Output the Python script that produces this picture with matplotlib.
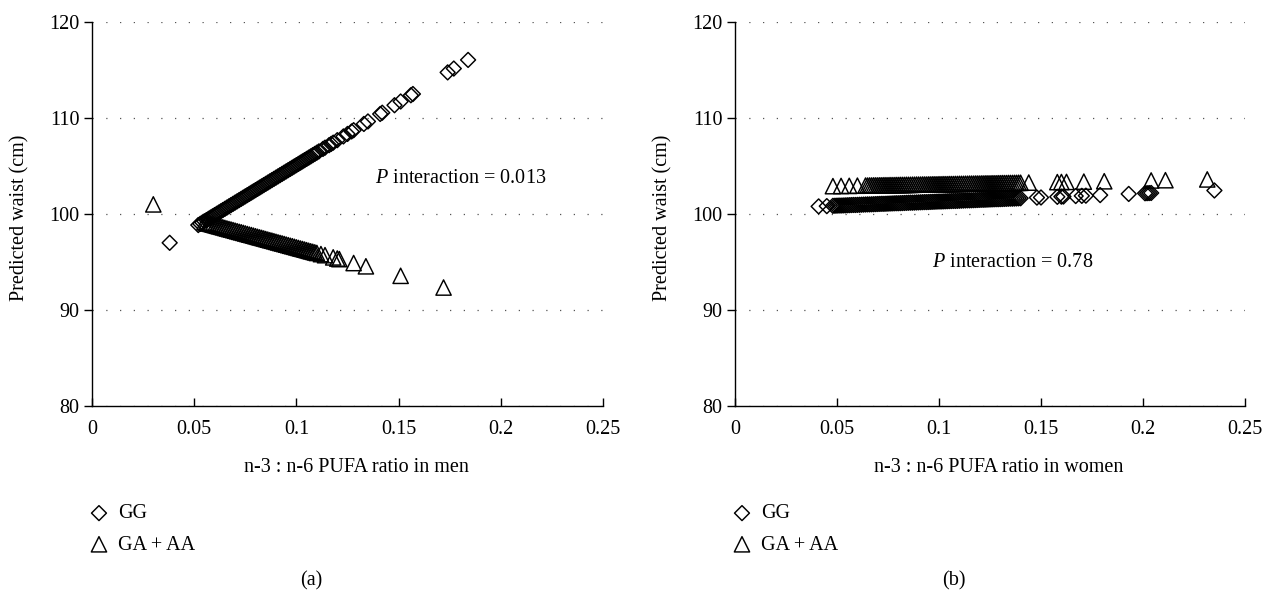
import matplotlib
matplotlib.use("Agg")
import matplotlib.pyplot as plt

plt.rcParams["font.family"] = ["Liberation Serif", "DejaVu Serif"]
plt.rcParams["mathtext.fontset"] = "custom"
plt.rcParams["mathtext.rm"] = "Liberation Serif"
plt.rcParams["mathtext.it"] = "Liberation Serif:italic"

# ---- data ----
x_ticks = [0, 0.05, 0.1, 0.15, 0.2, 0.25]
x_tick_labels = ["0", "0.05", "0.1", "0.15", "0.2", "0.25"]
y_ticks = [80, 90, 100, 110, 120]

# (a) men, GG
men_gg_x = [0.038, 0.052, 0.053, 0.054, 0.055, 0.056, 0.057, 0.058, 0.059, 0.060,
            0.061, 0.062, 0.063, 0.064, 0.065, 0.066, 0.067, 0.068, 0.069, 0.070,
            0.071, 0.072, 0.073, 0.074, 0.075, 0.076, 0.077, 0.078, 0.079, 0.080,
            0.081, 0.082, 0.083, 0.084, 0.085, 0.086, 0.087, 0.088, 0.089, 0.090,
            0.091, 0.092, 0.093, 0.094, 0.095, 0.096, 0.097, 0.098, 0.099, 0.100,
            0.101, 0.102, 0.103, 0.104, 0.105, 0.106, 0.107, 0.108, 0.109, 0.110,
            0.111, 0.113, 0.114, 0.116, 0.117, 0.118, 0.120, 0.123, 0.125, 0.127,
            0.128, 0.133, 0.135, 0.141, 0.142, 0.148, 0.151, 0.156, 0.157, 0.174,
            0.177, 0.184]
men_gg_y = [97.0, 98.85, 98.98, 99.11, 99.24, 99.37, 99.50, 99.63, 99.76, 99.89,
            100.02, 100.15, 100.28, 100.41, 100.54, 100.67, 100.80, 100.93, 101.06, 101.19,
            101.32, 101.45, 101.58, 101.71, 101.84, 101.97, 102.10, 102.23, 102.36, 102.49,
            102.62, 102.75, 102.88, 103.01, 103.14, 103.27, 103.40, 103.53, 103.66, 103.79,
            103.92, 104.05, 104.18, 104.31, 104.44, 104.57, 104.70, 104.83, 104.96, 105.09,
            105.22, 105.35, 105.48, 105.61, 105.74, 105.87, 106.00, 106.13, 106.26, 106.39,
            106.52, 106.78, 106.91, 107.17, 107.30, 107.43, 107.69, 108.08, 108.34, 108.60,
            108.73, 109.38, 109.64, 110.42, 110.55, 111.33, 111.72, 112.37, 112.50, 114.75,
            115.15, 116.05]

# (a) men, GA + AA
men_ga_x = [0.030, 0.055, 0.056, 0.057, 0.058, 0.059, 0.060, 0.061, 0.062, 0.063,
            0.064, 0.065, 0.066, 0.067, 0.068, 0.069, 0.070, 0.071, 0.072, 0.073,
            0.074, 0.075, 0.076, 0.077, 0.078, 0.079, 0.080, 0.081, 0.082, 0.083,
            0.084, 0.085, 0.086, 0.087, 0.088, 0.089, 0.090, 0.091, 0.092, 0.093,
            0.094, 0.095, 0.096, 0.097, 0.098, 0.099, 0.100, 0.101, 0.102, 0.103,
            0.104, 0.105, 0.106, 0.107, 0.108, 0.109, 0.110, 0.112, 0.114, 0.118,
            0.120, 0.121, 0.128, 0.134, 0.151, 0.172]
men_ga_y = [101.0, 99.13, 99.07, 99.01, 98.96, 98.90, 98.84, 98.78, 98.72, 98.67,
            98.61, 98.55, 98.49, 98.43, 98.38, 98.32, 98.26, 98.20, 98.14, 98.09,
            98.03, 97.97, 97.91, 97.85, 97.80, 97.74, 97.68, 97.62, 97.56, 97.51,
            97.45, 97.39, 97.33, 97.27, 97.22, 97.16, 97.10, 97.04, 96.98, 96.93,
            96.87, 96.81, 96.75, 96.69, 96.64, 96.58, 96.52, 96.46, 96.40, 96.35,
            96.29, 96.23, 96.17, 96.11, 96.06, 96.00, 95.94, 95.82, 95.71, 95.48,
            95.36, 95.30, 94.89, 94.55, 93.56, 92.34]

# (b) women, GG
women_gg_x = [0.041, 0.045,
              0.048, 0.049, 0.050, 0.051, 0.052, 0.053, 0.054, 0.055, 0.056, 0.057,
              0.058, 0.059, 0.060, 0.061, 0.062, 0.063, 0.064, 0.065, 0.066, 0.067,
              0.068, 0.069, 0.070, 0.071, 0.072, 0.073, 0.074, 0.075, 0.076, 0.077,
              0.078, 0.079, 0.080, 0.081, 0.082, 0.083, 0.084, 0.085, 0.086, 0.087,
              0.088, 0.089, 0.090, 0.091, 0.092, 0.093, 0.094, 0.095, 0.096, 0.097,
              0.098, 0.099, 0.100, 0.101, 0.102, 0.103, 0.104, 0.105, 0.106, 0.107,
              0.108, 0.109, 0.110, 0.111, 0.112, 0.113, 0.114, 0.115, 0.116, 0.117,
              0.118, 0.119, 0.120, 0.121, 0.122, 0.123, 0.124, 0.125, 0.126, 0.127,
              0.128, 0.129, 0.130, 0.131, 0.132, 0.133, 0.134, 0.135, 0.136, 0.137,
              0.138, 0.139, 0.140,
              0.148, 0.150, 0.158, 0.160, 0.161, 0.167, 0.170, 0.172, 0.179, 0.193,
              0.201, 0.202, 0.203, 0.204, 0.235]
women_gg_y = [100.79, 100.82,
              100.85, 100.86, 100.87, 100.88, 100.88, 100.89, 100.90, 100.91, 100.92, 100.93,
              100.94, 100.94, 100.95, 100.96, 100.97, 100.98, 100.99, 101.00, 101.00, 101.01,
              101.02, 101.03, 101.04, 101.05, 101.06, 101.06, 101.07, 101.08, 101.09, 101.10,
              101.11, 101.12, 101.12, 101.13, 101.14, 101.15, 101.16, 101.17, 101.18, 101.18,
              101.19, 101.20, 101.21, 101.22, 101.23, 101.24, 101.24, 101.25, 101.26, 101.27,
              101.28, 101.29, 101.30, 101.30, 101.31, 101.32, 101.33, 101.34, 101.35, 101.36,
              101.36, 101.37, 101.38, 101.39, 101.40, 101.41, 101.42, 101.42, 101.43, 101.44,
              101.45, 101.46, 101.47, 101.48, 101.48, 101.49, 101.50, 101.51, 101.52, 101.53,
              101.54, 101.54, 101.55, 101.56, 101.57, 101.58, 101.59, 101.60, 101.60, 101.61,
              101.62, 101.63, 101.64,
              101.71, 101.72, 101.79, 101.81, 101.82, 101.87, 101.89, 101.91, 101.97, 102.09,
              102.16, 102.17, 102.18, 102.19, 102.45]

# (b) women, GA + AA
women_ga_x = [0.048, 0.052, 0.056, 0.060,
              0.064, 0.065, 0.066, 0.067, 0.068, 0.069, 0.070, 0.071, 0.072, 0.073,
              0.074, 0.075, 0.076, 0.077, 0.078, 0.079, 0.080, 0.081, 0.082, 0.083,
              0.084, 0.085, 0.086, 0.087, 0.088, 0.089, 0.090, 0.091, 0.092, 0.093,
              0.094, 0.095, 0.096, 0.097, 0.098, 0.099, 0.100, 0.101, 0.102, 0.103,
              0.104, 0.105, 0.106, 0.107, 0.108, 0.109, 0.110, 0.111, 0.112, 0.113,
              0.114, 0.115, 0.116, 0.117, 0.118, 0.119, 0.120, 0.121, 0.122, 0.123,
              0.124, 0.125, 0.126, 0.127, 0.128, 0.129, 0.130, 0.131, 0.132, 0.133,
              0.134, 0.135, 0.136, 0.137, 0.138, 0.139, 0.140,
              0.144, 0.158, 0.160, 0.1625, 0.171, 0.181, 0.204, 0.211, 0.2315]
women_ga_y = [102.90, 102.92, 102.93, 102.95,
              102.96, 102.96, 102.97, 102.97, 102.98, 102.98, 102.98, 102.99, 102.99, 103.00,
              103.00, 103.00, 103.01, 103.01, 103.01, 103.02, 103.02, 103.03, 103.03, 103.03,
              103.04, 103.04, 103.04, 103.05, 103.05, 103.06, 103.06, 103.06, 103.07, 103.07,
              103.07, 103.08, 103.08, 103.09, 103.09, 103.09, 103.10, 103.10, 103.11, 103.11,
              103.11, 103.12, 103.12, 103.12, 103.13, 103.13, 103.14, 103.14, 103.14, 103.15,
              103.15, 103.16, 103.16, 103.16, 103.17, 103.17, 103.17, 103.18, 103.18, 103.19,
              103.19, 103.19, 103.20, 103.20, 103.20, 103.21, 103.21, 103.22, 103.22, 103.22,
              103.23, 103.23, 103.23, 103.24, 103.24, 103.25, 103.25,
              103.27, 103.32, 103.33, 103.34, 103.37, 103.41, 103.49, 103.52, 103.60]

W, H = 1277, 593
FS = 14.5

fig = plt.figure(figsize=(W / 100, H / 100), dpi=100)
ax_a = fig.add_axes([92 / W, 1 - 406 / H, 511 / W, 384 / H])
ax_b = fig.add_axes([735 / W, 1 - 406 / H, 510 / W, 384 / H])

panels = [
    (ax_a, men_gg_x, men_gg_y, men_ga_x, men_ga_y, "n-3 : n-6 PUFA ratio in men",
     "$P$ interaction = 0.013", (0.1385, 103.7), "(a)"),
    (ax_b, women_gg_x, women_gg_y, women_ga_x, women_ga_y, "n-3 : n-6 PUFA ratio in women",
     "$P$ interaction = 0.78", (0.0965, 94.9), "(b)"),
]

for ax, gx, gy, tx, ty, xlab, ptxt, ppos, cap in panels:
    ax.scatter(gx, gy, marker="D", s=7.6 ** 2, facecolors="none",
               edgecolors="black", linewidths=1.05, zorder=3)
    ax.scatter(tx, ty, marker="^", s=11 ** 2, facecolors="none",
               edgecolors="black", linewidths=1.05, zorder=3)

    ax.set_xlim(0, 0.25)
    ax.set_ylim(80, 120)
    ax.set_xticks(x_ticks)
    ax.set_xticklabels(x_tick_labels)
    ax.set_yticks(y_ticks)
    ax.tick_params(axis="x", direction="in", length=6, width=1, labelsize=FS, pad=10)
    ax.tick_params(axis="y", direction="out", length=6, width=1, labelsize=FS, pad=3)
    for s in ("top", "right"):
        ax.spines[s].set_visible(False)
    for s in ("left", "bottom"):
        ax.spines[s].set_linewidth(1)
    ax.grid(axis="y", color="#555555", linestyle=(0, (1, 10)), linewidth=0.9)
    ax.set_axisbelow(True)
    ax.set_ylabel("Predicted waist (cm)", fontsize=FS)
    ax.yaxis.set_label_coords(-0.122, 0.49)
    ax.text(0.517, -0.161, xlab, transform=ax.transAxes, fontsize=FS,
            ha="center", va="center")
    ax.text(ppos[0], ppos[1], ptxt, fontsize=FS, ha="left", va="center")

    # legend drawn below the axes
    ax.legend(
        [ax.collections[0], ax.collections[1]], ["GG", "GA + AA"],
        loc="upper left", bbox_to_anchor=(-0.01, -0.256), frameon=False,
        fontsize=FS, handletextpad=0.35, labelspacing=0.6, handlelength=1.2,
        borderaxespad=0, borderpad=0,
    )
    ax.text(0.43, -0.455, cap, transform=ax.transAxes,
            fontsize=FS, ha="center", va="center")

fig.savefig("out.png", dpi=100, facecolor="white")
